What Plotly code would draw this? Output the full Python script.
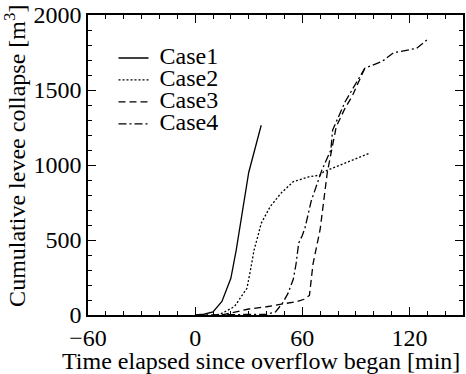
import plotly.graph_objects as go

# ---- data ----
case1_t = [0, 5, 10, 15, 20, 23, 30, 37]
case1_v = [0, 5, 20, 90, 245, 433, 950, 1265]

case2_t = [10, 14, 22, 29, 31, 33, 35, 37, 42, 48, 55, 64, 70, 72, 98]
case2_v = [0, 5, 56, 178, 300, 433, 520, 611, 722, 811, 889, 922, 933, 955, 1080]

case3_t = [15, 20, 30, 40, 50, 57, 61, 64, 66, 70, 74, 79, 84, 88, 95]
case3_v = [0, 15, 40, 55, 75, 90, 105, 130, 340, 570, 950, 1255, 1380, 1460, 1645]

case4_t = [0, 40, 45, 49, 52, 54, 55, 56.5, 58, 60, 61.5, 65, 71, 76, 77, 84, 95, 105, 111, 124, 131]
case4_v = [0, 5, 20, 80, 144, 200, 240, 340, 480, 530, 580, 760, 967, 1100, 1233, 1422, 1645, 1693, 1748, 1778, 1845]

names = ["Case1", "Case2", "Case3", "Case4"]
dashes = ["solid", "2px,2px", "7px,4px", "8px,3px,2px,3px"]

x_title = "Time elapsed since overflow began [min]"
y_title = "Cumulative levee collapse [m<sup>3</sup>]"

FONT = "Liberation Serif"
series = [(case1_t, case1_v), (case2_t, case2_v), (case3_t, case3_v), (case4_t, case4_v)]

fig = go.Figure()
for (t, v), n, d in zip(series, names, dashes):
    fig.add_trace(go.Scatter(
        x=t, y=v, mode="lines",
        name='<span style="font-size:24px">\u00a0%s</span>' % n,
        line=dict(color="black", width=1.3, dash=d),
    ))

axis_common = dict(
    showline=True, linecolor="black", linewidth=1.6, mirror="ticks",
    ticks="inside", ticklen=8, tickwidth=1.2, tickcolor="black",
    showgrid=False, zeroline=False,
    tickfont=dict(family=FONT, size=24, color="black"),
)

fig.update_layout(
    width=466, height=374,
    margin=dict(l=88, r=1, t=15, b=59),
    paper_bgcolor="white", plot_bgcolor="white",
    font=dict(family=FONT, size=24, color="black"),
    showlegend=True,
    legend=dict(x=0.068, y=0.91, xanchor="left", yanchor="top",
                bgcolor="rgba(0,0,0,0)", borderwidth=0,
                font=dict(family=FONT, size=14.6, color="black")),
    xaxis=dict(range=[-60, 150], tick0=0, dtick=60,
               minor=dict(dtick=10, ticks="inside", ticklen=4, tickcolor="black"),
               **axis_common),
    yaxis=dict(range=[0, 2000], tick0=0, dtick=500,
               minor=dict(dtick=100, ticks="inside", ticklen=4, tickcolor="black"),
               **axis_common),
    annotations=[
        dict(text=x_title, xref="paper", yref="paper", x=0.4615, y=-0.153,
             xanchor="center", yanchor="middle", showarrow=False,
             font=dict(family=FONT, size=24, color="black")),
        dict(text=y_title, xref="paper", yref="paper", x=-0.195, y=0.53,
             xanchor="center", yanchor="middle", showarrow=False, textangle=-90,
             font=dict(family=FONT, size=24, color="black")),
    ],
)

fig.write_html("out.html")
